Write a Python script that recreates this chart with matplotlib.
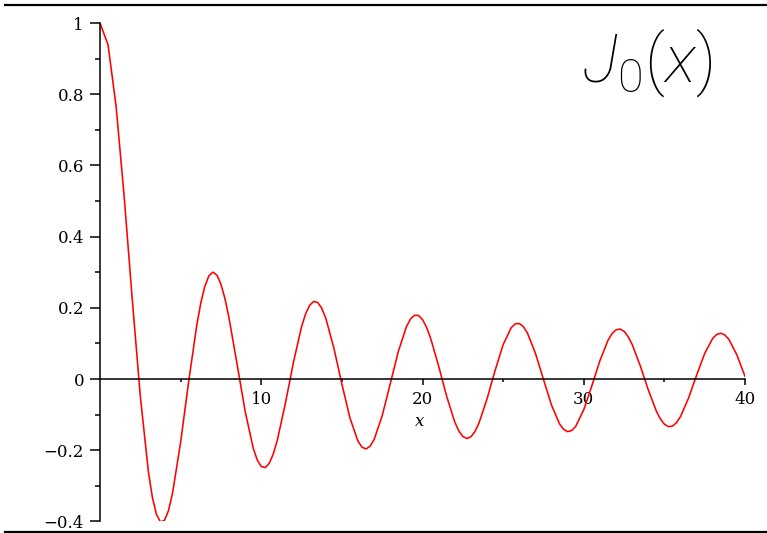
import matplotlib
matplotlib.use("Agg")
import matplotlib.pyplot as plt
from matplotlib.lines import Line2D
from matplotlib.ticker import FixedLocator

# Sampled values of the Bessel function J0 on [0, 40]
x_vals = [0.0, 0.5, 1.0, 1.5, 2.0, 2.5, 3.0, 3.25, 3.5, 3.75, 4.0, 4.25, 4.5,
          5.0, 5.5, 6.0, 6.25, 6.5, 6.75, 7.0, 7.25, 7.5, 7.75, 8.0, 8.5, 9.0, 9.5, 9.75,
          10.0, 10.25, 10.5, 10.75, 11.0, 11.5, 12.0, 12.5, 12.75, 13.0, 13.25, 13.5, 13.75,
          14.0, 14.5, 15.0, 15.5, 16.0, 16.25, 16.5, 16.75, 17.0, 17.5, 18.0, 18.5,
          19.0, 19.25, 19.5, 19.75, 20.0, 20.25, 20.5, 21.0, 21.5, 22.0, 22.25, 22.5, 22.75,
          23.0, 23.25, 23.5, 24.0, 24.5, 25.0, 25.5, 25.75, 26.0, 26.25, 26.5, 27.0, 27.5,
          28.0, 28.5, 28.75, 29.0, 29.25, 29.5, 30.0, 30.5, 31.0, 31.5, 31.75, 32.0, 32.25,
          32.5, 32.75, 33.0, 33.5, 34.0, 34.5, 34.75, 35.0, 35.25, 35.5, 35.75, 36.0, 36.5,
          37.0, 37.5, 38.0, 38.25, 38.5, 38.75, 39.0, 39.5, 40.0]
j0_vals = [1.0, 0.9385, 0.7652, 0.5118, 0.2239, -0.0484, -0.2601, -0.3331, -0.3801, -0.4014, -0.3971, -0.3693, -0.3205,
           -0.1776, -0.0068, 0.1506, 0.2133, 0.2601, 0.2895, 0.3001, 0.2920, 0.2663, 0.2257, 0.1717, 0.0419, -0.0903, -0.1939, -0.2273,
           -0.2459, -0.2489, -0.2366, -0.2101, -0.1712, -0.0677, 0.0477, 0.1469, 0.1829, 0.2069, 0.2178, 0.2150, 0.1990,
           0.1711, 0.0876, -0.0142, -0.1093, -0.1749, -0.1917, -0.1964, -0.1889, -0.1699, -0.1031, -0.0134, 0.0772,
           0.1466, 0.1681, 0.1789, 0.1785, 0.1670, 0.1455, 0.1151, 0.0366, -0.0490, -0.1207, -0.1457, -0.1616, -0.1672,
           -0.1624, -0.1477, -0.1239, -0.0562, 0.0237, 0.0963, 0.1441, 0.1548, 0.1560, 0.1474, 0.1299, 0.0728, -0.0010,
           -0.0732, -0.1263, -0.1415, -0.1479, -0.1449, -0.1332, -0.0863, -0.0194, 0.0512, 0.1083, 0.1272, 0.1381, 0.1404,
           0.1339, 0.1192, 0.0973, 0.0376, -0.0304, -0.0900, -0.1120, -0.1269, -0.1338, -0.1323, -0.1227, -0.1056, -0.0535,
           0.0109, 0.0717, 0.1143, 0.1254, 0.1286, 0.1238, 0.1114, 0.0673, 0.0074]

y_major = [-0.4, -0.2, 0.0, 0.2, 0.4, 0.6, 0.8, 1.0]
y_labels = ["\u22120.4", "\u22120.2", "0", "0.2", "0.4", "0.6", "0.8", "1"]
y_minor = [-0.3, -0.1, 0.1, 0.3, 0.5, 0.7, 0.9]
x_major = [10, 20, 30, 40]
x_labels = ["10", "20", "30", "40"]
x_minor = [5, 15, 25, 35]

serif = ["DejaVu Serif"]

W, H = 767, 533
fig = plt.figure(figsize=(W / 100, H / 100), dpi=100)
ax = fig.add_axes([100 / W, 1 - 521.4 / H, 645 / W, (521.4 - 23) / H])

ax.plot(x_vals, j0_vals, color="#ff0000", lw=1.15)

ax.set_xlim(0, 40)
ax.set_ylim(-0.4, 1.0)

for s in ("top", "right"):
    ax.spines[s].set_visible(False)
ax.spines["bottom"].set_position(("data", 0))
ax.spines["left"].set_position(("data", 0))
for s in ("bottom", "left"):
    ax.spines[s].set_linewidth(1.1)
    ax.spines[s].set_color("black")

ax.xaxis.set_major_locator(FixedLocator(x_major))
ax.xaxis.set_minor_locator(FixedLocator(x_minor))
ax.set_xticklabels(x_labels, family=serif, fontsize=12)
ax.yaxis.set_major_locator(FixedLocator(y_major))
ax.yaxis.set_minor_locator(FixedLocator(y_minor))
ax.set_yticklabels(y_labels, family=serif, fontsize=12)

ax.tick_params(axis="x", which="major", direction="out", length=4.3, width=1.1, pad=4.0)
ax.tick_params(axis="x", which="minor", direction="out", length=2.5, width=1.1)
ax.tick_params(axis="y", which="major", direction="out", length=7.2, width=1.1, pad=4.3)
ax.tick_params(axis="y", which="minor", direction="out", length=3.6, width=1.1)
ax.patch.set_visible(False)

ax.text(19.85, -0.118, "x", family=serif, style="italic", fontsize=12,
        ha="center", va="center")

# Function name in the upper right
plt.rcParams["mathtext.fontset"] = "custom"
plt.rcParams["mathtext.rm"] = "Roboto:light"
plt.rcParams["mathtext.it"] = "Roboto:italic:light"
fig.text(582 / W, 1 - 82 / H, r"$J_0(x)$", fontsize=48, ha="left", va="baseline")

# Rules across the top and bottom of the figure
for yp in (5, 532):
    fig.add_artist(Line2D([5 / W, 1.0], [1 - yp / H] * 2, color="black", lw=1.6))

fig.savefig("out.png", dpi=100)
